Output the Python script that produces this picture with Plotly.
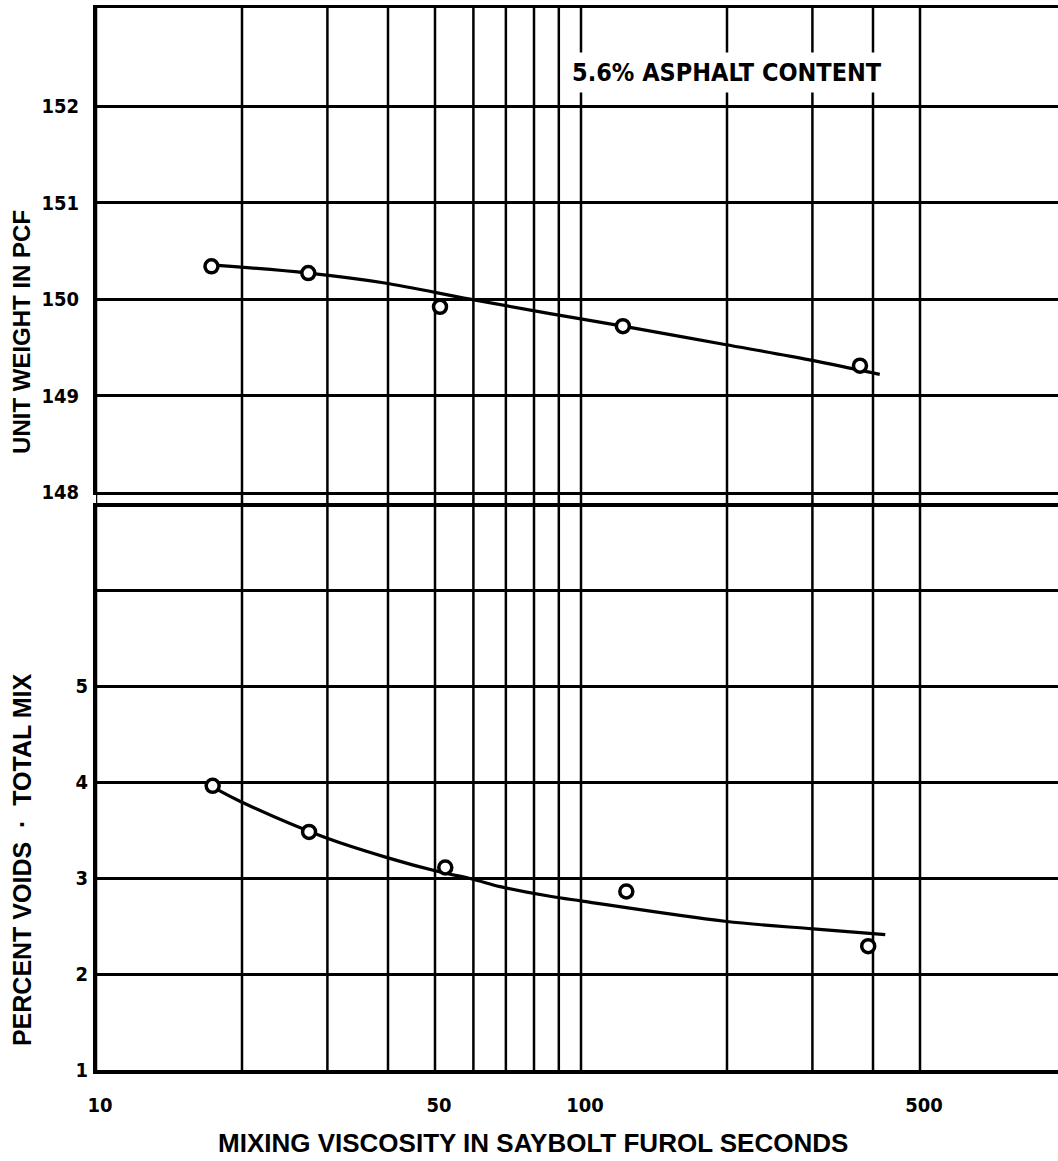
import plotly.graph_objects as go

# Mixing viscosity (Saybolt Furol seconds) and measured properties, 5.6 % asphalt
visc_uw = [17.3, 27.4, 51.2, 122, 376]
unit_weight = [150.34, 150.27, 149.92, 149.72, 149.31]

visc_voids = [17.4, 27.5, 52.5, 124, 391]
voids = [3.96, 3.48, 3.11, 2.86, 2.29]

# Faired curves through the test results
curve_uw_x = [17.8, 27.4, 39.1, 59.0, 86.3, 122, 198, 296, 413]
curve_uw_y = [150.35, 150.27, 150.17, 150.0, 149.85, 149.72, 149.53, 149.37, 149.22]

curve_voids_x = [17.8, 19.8, 29.4, 40.0, 50.5, 59.6, 68.1, 86.3, 100.5, 198, 301, 424]
curve_voids_y = [3.92, 3.80, 3.43, 3.21, 3.07, 2.99, 2.91, 2.81, 2.76, 2.55, 2.47, 2.41]

# Log-paper rulings and labels
grid_x = [10, 20, 30, 40, 50, 60, 70, 80, 90, 100, 200, 300, 400, 500]
x_tick_vals = [10, 50, 100, 500]
x_tick_text = ["10", "50", "100", "500"]
uw_ticks = [148, 149, 150, 151, 152]
uw_text = ["148", "149", "150", "151", "152"]
voids_ticks = [1, 2, 3, 4, 5, 6]
voids_text = ["1", "2", "3", "4", "5", ""]

NARROW = "Liberation Sans Narrow, Arial Narrow, DejaVu Sans Condensed, Liberation Sans, sans-serif"
WIDE = "Liberation Sans, Arial, DejaVu Sans, sans-serif"
INK = "black"

fig = go.Figure()

marker = dict(symbol="circle", size=13, color="white", line=dict(color=INK, width=3.5))
curve_line = dict(color=INK, width=3.2, shape="spline", smoothing=1.0)

fig.add_trace(go.Scatter(x=curve_uw_x, y=curve_uw_y, mode="lines", line=curve_line,
                         xaxis="x2", yaxis="y2", hoverinfo="skip"))
fig.add_trace(go.Scatter(x=visc_uw, y=unit_weight, mode="markers", marker=marker, xaxis="x2", yaxis="y2"))

fig.add_trace(go.Scatter(x=curve_voids_x, y=curve_voids_y, mode="lines", line=curve_line,
                         xaxis="x", yaxis="y", hoverinfo="skip"))
fig.add_trace(go.Scatter(x=visc_voids, y=voids, mode="markers", marker=marker, xaxis="x", yaxis="y"))

# vertical rulings run through both panels
shapes = [dict(type="line", xref="x", yref="paper", x0=g, x1=g, y0=0, y1=1, layer="below",
               line=dict(color=INK, width=2.5)) for g in grid_x]

tickfont = dict(family=NARROW, size=20, color=INK, weight="bold")

fig.update_layout(
    width=1058, height=1161,
    margin=dict(l=96, r=0, t=8, b=91),
    paper_bgcolor="white", plot_bgcolor="white",
    showlegend=False,
    shapes=shapes,
    xaxis=dict(type="log", range=[1, 2.9835], domain=[0, 1], anchor="y",
               showgrid=False, zeroline=False, tickvals=x_tick_vals, ticktext=x_tick_text,
               ticks="", tickfont=tickfont, ticklabelstandoff=14, ticklabelshift=4,
               showline=True, linecolor=INK, linewidth=4, mirror=True),
    xaxis2=dict(type="log", range=[1, 2.9835], domain=[0, 1], anchor="y2", matches="x",
                showgrid=False, zeroline=False, showticklabels=False, ticks="",
                showline=True, linecolor=INK, linewidth=3, mirror=True),
    yaxis=dict(range=[1, 6.865], domain=[0, 0.5301], anchor="x",
               tickvals=voids_ticks, ticktext=voids_text, ticks="", tickfont=tickfont,
               ticklabelstandoff=1, showgrid=True, gridcolor=INK, gridwidth=3,
               zeroline=False, showline=True, linecolor=INK, linewidth=3),
    yaxis2=dict(range=[148, 153.02], domain=[0.5443, 1], anchor="x2",
                tickvals=uw_ticks, ticktext=uw_text, ticks="", tickfont=tickfont,
                ticklabelstandoff=10, showgrid=True, gridcolor=INK, gridwidth=3,
                zeroline=False, showline=True, linecolor=INK, linewidth=3),
    annotations=[
        dict(text="5.6% ASPHALT CONTENT", xref="paper", yref="paper", x=0.656, y=0.9388,
             xanchor="center", yanchor="middle", showarrow=False, bgcolor="white", borderpad=5,
             font=dict(family=NARROW, size=25, color=INK, weight="bold")),
        dict(text="MIXING VISCOSITY IN SAYBOLT FUROL SECONDS", xref="paper", yref="paper",
             x=0.4543, y=-0.0687, xanchor="center", yanchor="middle", showarrow=False,
             font=dict(family=WIDE, size=26, color=INK, weight="bold")),
        dict(text="UNIT WEIGHT IN PCF", xref="paper", yref="paper", x=-0.0769, y=0.695,
             xanchor="center", yanchor="middle", textangle=-90, showarrow=False,
             font=dict(family=WIDE, size=24, color=INK, weight="bold")),
        dict(text="PERCENT VOIDS  ·  TOTAL MIX", xref="paper", yref="paper", x=-0.0769, y=0.1977,
             xanchor="center", yanchor="middle", textangle=-90, showarrow=False,
             font=dict(family=WIDE, size=25, color=INK, weight="bold")),
    ],
)

fig.write_html("out.html")
